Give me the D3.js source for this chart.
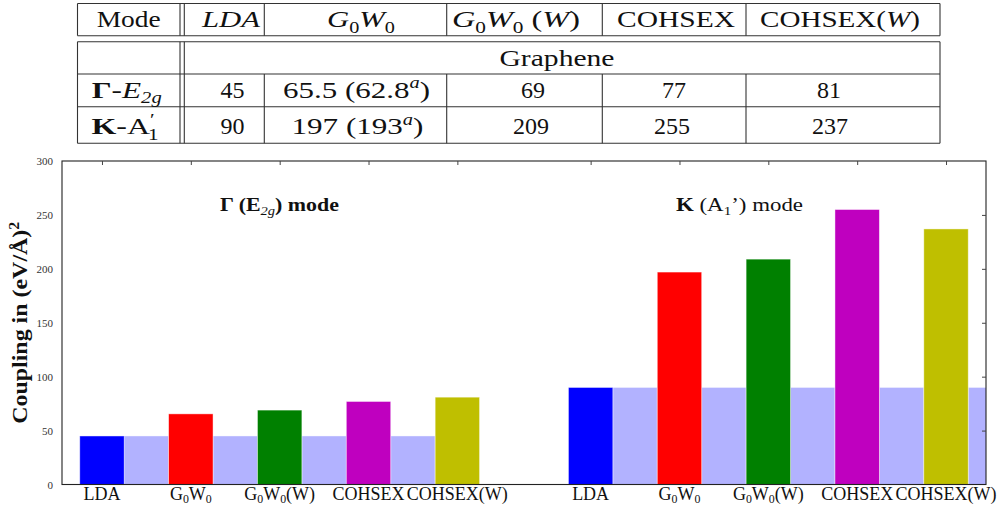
<!DOCTYPE html>
<html>
<head>
<meta charset="utf-8">
<script src="https://cdn.jsdelivr.net/npm/d3@7"></script>
<style>
  html, body { margin: 0; padding: 0; background: #fff; }
  svg { display: block; font-family: "Liberation Serif", "DejaVu Serif", serif; }
  svg text { font-family: "Liberation Serif", "DejaVu Serif", serif; }
</style>
</head>
<body>
<svg id="chart" width="1001" height="508"></svg>
<script>
// ---------------- data ----------------
const methods = ["LDA", "G0W0", "G0W0(W)", "COHSEX", "COHSEX(W)"];
const modeNames = ["Γ (E2g) mode", "K (A1') mode"];
const gammaValues = [45, 65.5, 69, 77, 81];
const kValues = [90, 197, 209, 255, 237];
const barColors = ["#0000ff", "#ff0000", "#008000", "#bf00bf", "#bfbf00"];
const refColor = "#b2b2ff";
const yTicks = [0, 50, 100, 150, 200, 250, 300];
const groupStart = [0, 11];      // first slot of each mode group
const refCount = [4, 5];         // LDA reference bars drawn in each group

// table
const tableHeader = ["Mode", "LDA", "G0W0", "G0W0 (W)", "COHSEX", "COHSEX(W)"];
const tableGroup = "Graphene";
const tableGammaRow = ["Γ-E2g", "45", "65.5 (62.8a)", "69", "77", "81"];
const tableKRow = ["K-A1'", "90", "197 (193a)", "209", "255", "237"];

// ---------------- rich text formats ----------------
const fmt = {
  "LDA@tab": [{t: "LDA", i: 1}],
  "G0W0@tab": [{t: "G", i: 1}, {t: "0", p: "sub"}, {t: "W", i: 1}, {t: "0", p: "sub"}],
  "G0W0 (W)@tab": [{t: "G", i: 1}, {t: "0", p: "sub"}, {t: "W", i: 1}, {t: "0", p: "sub"}, {t: " ("}, {t: "W", i: 1}, {t: ")"}],
  "COHSEX(W)@tab": [{t: "COHSEX("}, {t: "W", i: 1}, {t: ")"}],
  "Γ-E2g@tab": [{t: "Γ", b: 1}, {t: "-"}, {t: "E", i: 1}, {t: "2g", i: 1, p: "sub"}],
  "K-A1'@tab": [{t: "K", b: 1}, {t: "-A"}, {t: "′", p: "sup"}, {t: "1", p: "sub", dx: -5}],
  "65.5 (62.8a)@tab": [{t: "65.5  (62.8"}, {t: "a", i: 1, p: "sup"}, {t: ")"}],
  "197 (193a)@tab": [{t: "197  (193"}, {t: "a", i: 1, p: "sup"}, {t: ")"}],
  "G0W0@ax": [{t: "G"}, {t: "0", p: "sub"}, {t: "W"}, {t: "0", p: "sub"}],
  "G0W0(W)@ax": [{t: "G"}, {t: "0", p: "sub"}, {t: "W"}, {t: "0", p: "sub"}, {t: "(W)"}],
  "Γ (E2g) mode@ax": [{t: "Γ (E", b: 1}, {t: "2g", i: 1, p: "sub"}, {t: ") mode", b: 1}],
  "K (A1') mode@ax": [{t: "K", b: 1}, {t: " (A"}, {t: "1", p: "sub"}, {t: "’) mode"}]
};

function rich(sel, label, ctx, size, subShift) {
  const segs = fmt[label + "@" + ctx] || [{t: label}];
  const sub = subShift == null ? 0.28 : subShift;
  let off = 0;
  segs.forEach(s => {
    const target = s.p === "sub" ? size * sub : s.p === "sup" ? -size * 0.38 : 0;
    const ts = sel.append("tspan")
      .text(s.t)
      .attr("dy", (target - off).toFixed(2))
      .attr("font-size", s.p ? size * 0.66 : size)
      .attr("font-style", s.i ? "italic" : "normal")
      .attr("font-weight", s.b ? "bold" : "normal");
    if (s.dx) ts.attr("dx", s.dx);
    off = target;
  });
  return sel;
}

const svg = d3.select("#chart");

// ---------------- table ----------------
const T = svg.append("g").attr("class", "table");
const tx = {left: 77.5, dbl1: 180, dbl2: 184.3, right: 940};
const colLines = [264.3, 446.7, 602.3, 746];
const rowY = {h0: 3.5, h1: 35.7, b0: 41.7, g1: 74, r1: 106.7, r2: 143.3};
const lineCol = "#333";
function hl(x1, x2, y) { T.append("line").attr("x1", x1).attr("x2", x2).attr("y1", y).attr("y2", y).attr("stroke", lineCol).attr("stroke-width", 1.1); }
function vl(x, y1, y2) { T.append("line").attr("x1", x).attr("x2", x).attr("y1", y1).attr("y2", y2).attr("stroke", lineCol).attr("stroke-width", 1.1); }
[rowY.h0, rowY.h1, rowY.b0, rowY.g1, rowY.r1, rowY.r2].forEach(y => hl(tx.left, tx.right, y));
[tx.left, tx.dbl1, tx.dbl2, tx.right].forEach(x => { vl(x, rowY.h0, rowY.h1); vl(x, rowY.b0, rowY.r2); });
colLines.forEach(x => { vl(x, rowY.h0, rowY.h1); vl(x, rowY.g1, rowY.r2); });

const tabSize = 24;
const headerX = [128.7, 231, 361, 516, 676, 840];
const headerW = [64, 58, 68, 128, 118, 160];
const gammaX = [126.7, 232.5, 356.5, 533, 674, 829];
const gammaW = [70, null, 147, null, null, null];
const kX = [125, 232.5, 357.5, 531, 672, 830];
const kW = [67, null, 132, null, null, null];

function tableRow(labels, xs, ws, baseline) {
  labels.forEach((lab, i) => {
    const t = T.append("text")
      .attr("x", xs[i]).attr("y", baseline)
      .attr("text-anchor", "middle")
      .attr("fill", "#111");
    rich(t, lab, "tab", tabSize, 0.24);
    if (ws[i]) t.attr("textLength", ws[i]).attr("lengthAdjust", "spacingAndGlyphs");
  });
}
tableRow(tableHeader, headerX, headerW, 27);
T.append("text").attr("x", 557).attr("y", 66).attr("text-anchor", "middle").attr("fill", "#111")
  .attr("font-size", tabSize).attr("textLength", 115).attr("lengthAdjust", "spacingAndGlyphs").text(tableGroup);
tableRow(tableGammaRow, gammaX, gammaW, 97.5);
tableRow(tableKRow, kX, kW, 134);

// ---------------- bar chart ----------------
const plot = {left: 62, right: 986, top: 161, bottom: 484.5};
const x = d3.scaleLinear().domain([-0.4, 20.4]).range([plot.left, plot.right]);
const y = d3.scaleLinear().domain([0, 300]).range([plot.bottom, plot.top]);

svg.append("clipPath").attr("id", "clip")
  .append("rect").attr("x", plot.left).attr("y", plot.top)
  .attr("width", plot.right - plot.left).attr("height", plot.bottom - plot.top);

const groups = [gammaValues, kValues];
const bars = [];
const refs = [];
groups.forEach((vals, g) => {
  vals.forEach((v, i) => bars.push({slot: groupStart[g] + 2 * i, value: v, color: barColors[i], label: methods[i]}));
  d3.range(refCount[g]).forEach(i => refs.push({slot: groupStart[g] + 2 * i + 1, value: vals[0]}));
});

const B = svg.append("g").attr("clip-path", "url(#clip)");
B.selectAll("rect.ref").data(refs).join("rect").attr("class", "ref")
  .attr("x", d => x(d.slot)).attr("width", d => x(d.slot + 1) - x(d.slot))
  .attr("y", d => y(d.value)).attr("height", d => y(0) - y(d.value))
  .attr("fill", refColor).attr("stroke", "#fff").attr("stroke-opacity", 0.5).attr("stroke-width", 0.8);
B.selectAll("rect.bar").data(bars).join("rect").attr("class", "bar")
  .attr("x", d => x(d.slot)).attr("width", d => x(d.slot + 1) - x(d.slot))
  .attr("y", d => y(d.value)).attr("height", d => y(0) - y(d.value))
  .attr("fill", d => d.color).attr("stroke", "#fff").attr("stroke-opacity", 0.55).attr("stroke-width", 0.8);

// frame
svg.append("rect").attr("x", plot.left).attr("y", plot.top)
  .attr("width", plot.right - plot.left).attr("height", plot.bottom - plot.top)
  .attr("fill", "none").attr("stroke", "#222").attr("stroke-width", 1.1);

// left axis labels
const yAxis = svg.append("g").attr("transform", `translate(${plot.left},0)`)
  .call(d3.axisLeft(y).tickValues(yTicks).tickSize(0).tickPadding(9));
yAxis.select(".domain").remove();
yAxis.selectAll("text").attr("font-family", "Liberation Serif, serif").attr("font-size", 11).attr("fill", "#333");

// right inward ticks
const rAxis = svg.append("g").attr("transform", `translate(${plot.right},0)`)
  .call(d3.axisLeft(y).tickValues(yTicks.slice(1, -1)).tickSize(4).tickFormat(""));
rAxis.select(".domain").remove();
rAxis.selectAll("line").attr("stroke", "#444");

// top inward ticks
const tAxis = svg.append("g").attr("transform", `translate(0,${plot.top})`)
  .call(d3.axisBottom(x).tickValues(bars.map(d => d.slot + 0.5)).tickSize(4).tickFormat(""));
tAxis.select(".domain").remove();
tAxis.selectAll("line").attr("stroke", "#444");

// bottom category labels
const xl = svg.append("g");
bars.forEach(d => {
  const t = xl.append("text").attr("x", x(d.slot + 0.5)).attr("y", 500)
    .attr("text-anchor", "middle").attr("fill", "#111");
  rich(t, d.label, "ax", 18, 0.15);
});

// mode annotations
const modeX = [220, 676];
const modeW = [119, 127];
modeNames.forEach((m, i) => {
  const t = svg.append("text").attr("x", modeX[i]).attr("y", 211).attr("fill", "#111");
  rich(t, m, "ax", 19, 0.22);
  t.attr("textLength", modeW[i]).attr("lengthAdjust", "spacingAndGlyphs");
});

// y label
svg.append("text")
  .attr("transform", `translate(27,${(plot.top + plot.bottom) / 2}) rotate(-90)`)
  .attr("text-anchor", "middle")
  .attr("font-size", 21).attr("font-weight", "bold").attr("fill", "#111")
  .attr("textLength", 202).attr("lengthAdjust", "spacingAndGlyphs")
  .call(t => {
    t.append("tspan").text("Coupling in (eV/Å)");
    t.append("tspan").text("2").attr("font-size", 14).attr("dy", -8);
  });
</script>
</body>
</html>
